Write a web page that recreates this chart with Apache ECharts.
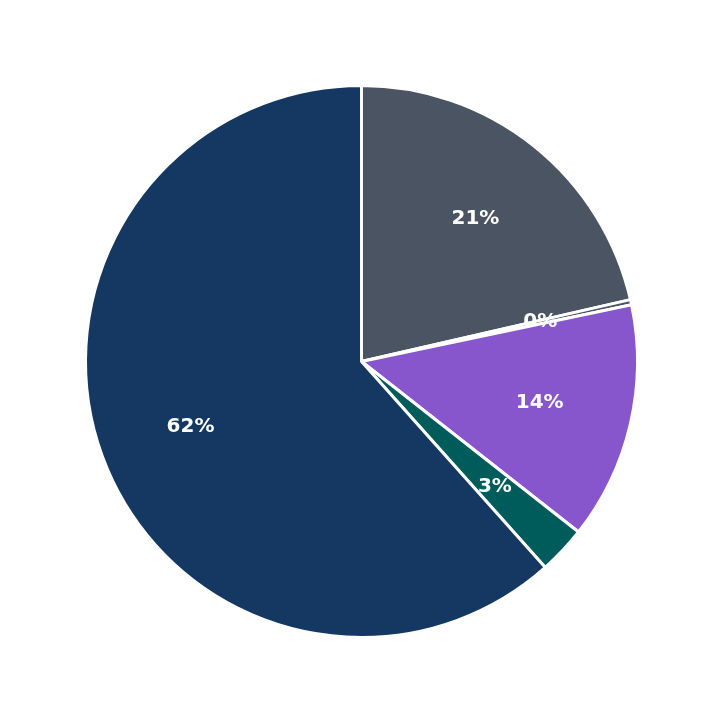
<!DOCTYPE html>
<html><head><meta charset="utf-8">
<script src="https://cdn.jsdelivr.net/npm/echarts@6/dist/echarts.min.js"></script>
<style>html,body{margin:0;padding:0;background:#fff}#c{width:723px;height:723px}</style>
</head><body><div id="c"></div>
<script>
const categories = ['A','B','C','D','E'];
const values = [21.4, 0.3, 13.9, 2.8, 61.6];
const colors = ['#4a5462','#4a5462','#8755cc','#005c5a','#143861'];
const data = categories.map((n,i)=>({name:n,value:values[i],itemStyle:{color:colors[i]}}));
const chart = echarts.init(document.getElementById('c'));
chart.setOption({
  animation:false,
  series:[
    {type:'pie',center:['50%','50%'],radius:[0,276],startAngle:90,clockwise:true,
     data:data,label:{show:false},labelLine:{show:false},
     itemStyle:{borderColor:'#fff',borderWidth:3}},
    {type:'pie',center:['50%','50%'],radius:[84,276],startAngle:90,clockwise:true,silent:true,
     data:categories.map((n,i)=>({name:n,value:values[i]})),
     itemStyle:{color:'rgba(0,0,0,0)'},
     label:{show:true,position:'inside',color:'#fff',fontSize:20,fontWeight:'bold',
       fontFamily:'DejaVu Sans',formatter:p=>Math.round(p.percent)+'%'},
     labelLine:{show:false}}
  ]
});
</script></body></html>
